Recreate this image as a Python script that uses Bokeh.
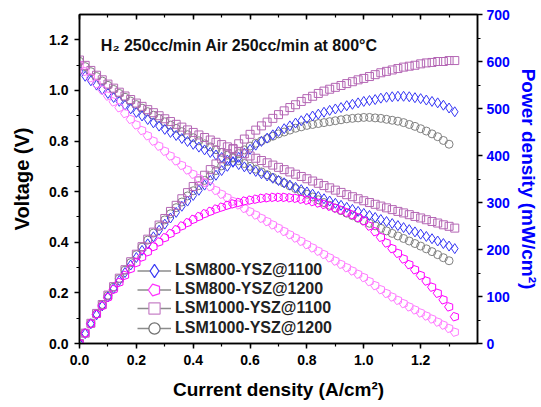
import math
from bokeh.plotting import figure
from bokeh.models import (LinearAxis, Range1d, SingleIntervalTicker, NumeralTickFormatter,
                          Legend, LegendItem, Label, CustomJSTickFormatter)
from bokeh.embed import file_html
from bokeh.resources import INLINE

# ---------------- data ----------------
current = [0.00, 0.02, 0.04, 0.06, 0.08, 0.10, 0.12, 0.14, 0.16, 0.18,
           0.20, 0.22, 0.24, 0.26, 0.28, 0.30, 0.32, 0.34, 0.36, 0.38,
           0.40, 0.42, 0.44, 0.46, 0.48, 0.50, 0.52, 0.54, 0.56, 0.58,
           0.60, 0.62, 0.64, 0.66, 0.68, 0.70, 0.72, 0.74, 0.76, 0.78,
           0.80, 0.82, 0.84, 0.86, 0.88, 0.90, 0.92, 0.94, 0.96, 0.98,
           1.00, 1.02, 1.04, 1.06, 1.08, 1.10, 1.12, 1.14, 1.16, 1.18,
           1.20, 1.22, 1.24, 1.26, 1.28, 1.30, 1.32]

labels = ["LSM800-YSZ@1100", "LSM800-YSZ@1200", "LSM1000-YSZ@1100", "LSM1000-YSZ@1200"]

volt_lsm800_1100 = [1.075, 1.056, 1.038, 1.021, 1.004, 0.988, 0.972, 0.957, 0.942, 0.927,
                    0.913, 0.899, 0.885, 0.872, 0.859, 0.846, 0.834, 0.822, 0.810, 0.798,
                    0.787, 0.776, 0.765, 0.755, 0.745, 0.735, 0.725, 0.716, 0.707, 0.698,
                    0.689, 0.680, 0.671, 0.662, 0.653, 0.644, 0.635, 0.626, 0.617, 0.608,
                    0.599, 0.590, 0.581, 0.572, 0.563, 0.554, 0.546, 0.538, 0.530, 0.522,
                    0.514, 0.506, 0.498, 0.490, 0.482, 0.474, 0.466, 0.458, 0.450, 0.441,
                    0.432, 0.423, 0.414, 0.405, 0.395, 0.385, 0.375]
power_lsm800_1100 = [0, 21, 42, 61, 80, 99, 117, 134, 151, 167,
                     183, 198, 212, 227, 241, 254, 267, 279, 292, 303,
                     315, 326, 337, 347, 358, 368, 377, 387, 396, 405,
                     413, 422, 430, 437, 444, 451, 457, 463, 469, 474,
                     479, 484, 488, 492, 496, 499, 502, 506, 509, 512,
                     515, 517, 519, 522, 524, 525, 526, 526, 525, 523,
                     521, 518, 515, 512, 507, 501, 493]

volt_lsm800_1200 = [1.100, 1.075, 1.050, 1.026, 1.002, 0.978, 0.955, 0.932, 0.909, 0.886,
                    0.864, 0.842, 0.821, 0.800, 0.780, 0.760, 0.741, 0.722, 0.704, 0.686,
                    0.669, 0.652, 0.636, 0.620, 0.605, 0.590, 0.576, 0.562, 0.548, 0.534,
                    0.521, 0.508, 0.495, 0.482, 0.469, 0.456, 0.443, 0.430, 0.417, 0.404,
                    0.391, 0.378, 0.365, 0.352, 0.339, 0.326, 0.313, 0.300, 0.287, 0.274,
                    0.261, 0.245, 0.229, 0.213, 0.198, 0.184, 0.171, 0.158, 0.145, 0.133,
                    0.121, 0.109, 0.097, 0.085, 0.073, 0.060, 0.045]
power_lsm800_1200 = [0, 22, 42, 62, 80, 98, 115, 130, 145, 159,
                     172, 184, 195, 206, 216, 225, 234, 242, 250, 257,
                     264, 270, 276, 281, 286, 290, 294, 297, 300, 303,
                     305, 307, 309, 310, 311, 311, 311, 310, 309, 307,
                     305, 302, 299, 296, 292, 288, 284, 279, 274, 268,
                     261, 250, 238, 226, 214, 202, 192, 180, 168, 157,
                     145, 133, 120, 107, 93, 78, 57]

volt_lsm1000_1100 = [1.120, 1.099, 1.079, 1.060, 1.042, 1.025, 1.009, 0.993, 0.978, 0.964,
                     0.950, 0.937, 0.924, 0.912, 0.900, 0.888, 0.877, 0.866, 0.855, 0.844,
                     0.834, 0.824, 0.814, 0.804, 0.795, 0.786, 0.777, 0.768, 0.759, 0.750,
                     0.741, 0.732, 0.723, 0.714, 0.705, 0.696, 0.687, 0.678, 0.669, 0.660,
                     0.651, 0.642, 0.633, 0.624, 0.615, 0.606, 0.597, 0.588, 0.580, 0.572,
                     0.564, 0.557, 0.550, 0.543, 0.536, 0.529, 0.522, 0.516, 0.509, 0.502,
                     0.496, 0.489, 0.482, 0.476, 0.469, 0.463, 0.456]
power_lsm1000_1100 = [0, 22, 43, 64, 83, 103, 121, 139, 157, 174,
                      190, 206, 222, 237, 252, 266, 281, 294, 308, 321,
                      334, 346, 358, 370, 382, 393, 404, 415, 425, 435,
                      445, 454, 463, 471, 479, 487, 495, 502, 508, 515,
                      521, 526, 532, 537, 541, 545, 549, 553, 557, 561,
                      564, 568, 572, 576, 579, 582, 585, 588, 590, 592,
                      595, 597, 598, 600, 600, 602, 602]

volt_lsm1000_1200 = [1.115, 1.094, 1.074, 1.055, 1.037, 1.020, 1.004, 0.988, 0.973, 0.958,
                     0.944, 0.930, 0.916, 0.902, 0.889, 0.876, 0.863, 0.850, 0.837, 0.825,
                     0.813, 0.801, 0.789, 0.777, 0.766, 0.755, 0.744, 0.733, 0.722, 0.711,
                     0.700, 0.689, 0.678, 0.667, 0.656, 0.645, 0.634, 0.623, 0.612, 0.601,
                     0.590, 0.579, 0.568, 0.557, 0.546, 0.535, 0.525, 0.515, 0.505, 0.495,
                     0.485, 0.475, 0.465, 0.455, 0.445, 0.435, 0.425, 0.415, 0.405, 0.395,
                     0.385, 0.374, 0.363, 0.351, 0.339, 0.327]
power_lsm1000_1200 = [0, 22, 43, 63, 83, 102, 120, 138, 156, 172,
                      189, 205, 220, 235, 249, 263, 276, 289, 301, 314,
                      325, 336, 347, 357, 368, 378, 387, 396, 404, 412,
                      420, 426, 431, 436, 441, 446, 450, 454, 458, 461,
                      464, 466, 468, 470, 472, 474, 476, 478, 479, 480,
                      481, 481, 480, 479, 477, 475, 473, 470, 466, 462,
                      457, 452, 446, 440, 432, 424]

FONT = "Liberation Sans"
BLUE = "#3636F5"
MAGENTA = "#FF00FF"
PINK = "#FF7BFF"
PURPLE = "#B466B4"
GRAY = "#808080"
NAN = float("nan")

p = figure(width=541, height=407, output_backend="svg", toolbar_location=None,
           x_range=Range1d(0, 1.4), y_range=Range1d(0, 1.3),
           min_border_left=79, min_border_right=59, min_border_top=14, min_border_bottom=64)
p.extra_y_ranges = {"power": Range1d(0, 700)}
p.xgrid.visible = False
p.ygrid.visible = False
p.outline_line_color = "black"
p.outline_line_width = 1.5
p.background_fill_color = "white"
p.border_fill_color = "white"

def style_axis(ax, color="black"):
    ax.axis_line_width = 1.5
    ax.axis_line_color = "black"
    ax.major_tick_line_width = 1.5
    ax.minor_tick_line_width = 1.2
    ax.major_tick_line_color = "black"
    ax.minor_tick_line_color = "black"
    ax.major_tick_out = 5
    ax.major_tick_in = 0
    ax.minor_tick_out = 3
    ax.minor_tick_in = 0
    ax.major_label_text_font = FONT
    ax.major_label_text_font_style = "bold"
    ax.major_label_text_font_size = "14px"
    ax.major_label_text_color = color
    ax.axis_label_text_font = FONT
    ax.axis_label_text_font_style = "bold"
    ax.axis_label_text_font_size = "19px"
    ax.axis_label_text_color = color

xax = p.xaxis[0]
xax.ticker = SingleIntervalTicker(interval=0.2, num_minor_ticks=2)
xax.formatter = NumeralTickFormatter(format="0.0")
xax.axis_label = "Current density (A/cm²)"
style_axis(xax)
xax.major_label_standoff = 6
xax.axis_label_standoff = 11

yax = p.yaxis[0]
yax.ticker = SingleIntervalTicker(interval=0.2, num_minor_ticks=2)
yax.formatter = NumeralTickFormatter(format="0.0")
yax.axis_label = "Voltage (V)"
style_axis(yax)
yax.axis_label_text_font_size = "20px"
yax.major_label_standoff = 6
yax.axis_label_standoff = 13

rax = LinearAxis(y_range_name="power", ticker=SingleIntervalTicker(interval=100, num_minor_ticks=2),
                 axis_label="Power density (mW/cm²)")
style_axis(rax, "#0000FF")
rax.major_label_standoff = 4
rax.axis_label_standoff = 5
p.add_layout(rax, "right")

tax = LinearAxis(ticker=SingleIntervalTicker(interval=0.2, num_minor_ticks=2),
                 formatter=CustomJSTickFormatter(code="return ''"))
style_axis(tax)
tax.major_label_text_font_size = "1px"
tax.major_tick_in = 5
tax.major_tick_out = 0
tax.minor_tick_in = 3
tax.minor_tick_out = 0
tax.major_label_standoff = 0
p.add_layout(tax, "above")

MS = 8
def pentagon(x, y, color, size, y_range_name="default", fill=None, lw=1):
    try:
        return p.ngon(x=x, y=y, radius=size / 2.0, radius_units="screen", n=5, angle=math.pi / 2,
                      fill_color=fill, line_color=color, line_width=lw, y_range_name=y_range_name)
    except Exception:
        return p.scatter(x=x, y=y, marker="hex", size=size, fill_color=fill,
                         line_color=color, line_width=lw, y_range_name=y_range_name)

# LSM1000-YSZ@1200 (gray circles)
n_g = len(volt_lsm1000_1200)
p.scatter(current[:n_g], volt_lsm1000_1200, marker="circle", size=MS, fill_color=None, line_color=GRAY, line_width=1)
p.scatter(current[:n_g], power_lsm1000_1200, marker="circle", size=MS, fill_color=None, line_color=GRAY, line_width=1,
          y_range_name="power")
# LSM800-YSZ@1100 (blue diamonds)
p.scatter(current, volt_lsm800_1100, marker="diamond", size=MS + 2, fill_color=None, line_color=BLUE, line_width=1)
p.scatter(current, power_lsm800_1100, marker="diamond", size=MS + 2, fill_color=None, line_color=BLUE, line_width=1,
          y_range_name="power")
# LSM1000-YSZ@1100 (purple squares)
p.scatter(current, volt_lsm1000_1100, marker="square", size=MS, fill_color=None, line_color=PURPLE, line_width=1)
p.scatter(current, power_lsm1000_1100, marker="square", size=MS, fill_color=None, line_color=PURPLE, line_width=1,
          y_range_name="power")
# LSM800-YSZ@1200 (pentagons)
pentagon(current, volt_lsm800_1200, PINK, MS + 1)
pentagon(current, power_lsm800_1200, MAGENTA, MS + 1, "power")

# legend: one single-entry legend per row so the symbols can be drawn large
leg_specs = [("diamond", BLUE, 33), ("pentagon", "#FF33FF", 31), ("square", "#C882C8", 28), ("circle", "#707070", 28)]
row_offsets = [58, 39, 20, 0]
for lab, (mk, col, gh), off in zip(labels, leg_specs, row_offsets):
    ln = p.line(x=[NAN], y=[NAN], line_color="#8C8C8C", line_width=1.5)
    if mk == "pentagon":
        mr = pentagon([NAN], [NAN], col, 13, fill="white", lw=1.2)
    else:
        mr = p.scatter(x=[NAN], y=[NAN], marker=mk, size=12,
                       fill_color="white", line_color=col, line_width=1.2)
    lg = Legend(items=[LegendItem(label=lab, renderers=[ln, mr])],
                location=(58, off + (30 - gh) / 2.0), orientation="vertical",
                glyph_width=34, glyph_height=gh, label_height=gh, spacing=0, padding=0, margin=0,
                label_standoff=4, background_fill_alpha=0, border_line_alpha=0,
                label_text_font=FONT, label_text_font_style="bold", label_text_font_size="16px",
                label_text_line_height=1.0, label_text_color="#222222")
    p.add_layout(lg)

title = Label(x=0.075, y=1.177, text="H₂ 250cc/min Air 250cc/min at 800°C",
              text_font=FONT, text_font_style="bold", text_font_size="16px",
              text_baseline="alphabetic", text_color="#111111")
p.add_layout(title)

open("out.html", "w").write(file_html(p, INLINE))
